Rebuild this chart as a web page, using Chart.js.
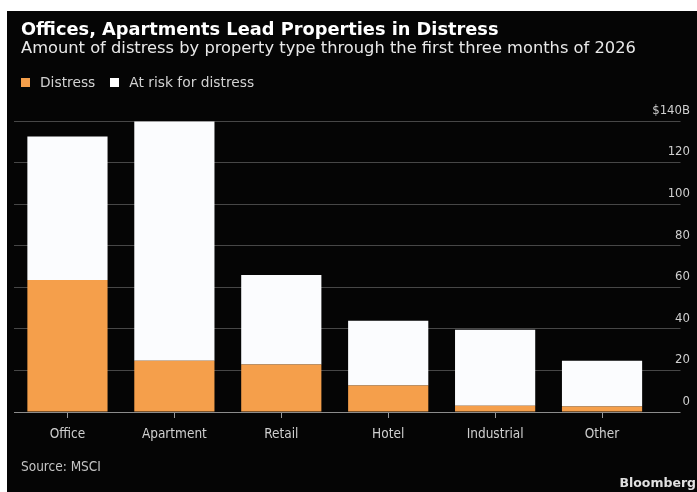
<!DOCTYPE html>
<html>
<head>
<meta charset="utf-8">
<script src="https://cdn.jsdelivr.net/npm/chart.js@4.4.1/dist/chart.umd.min.js"></script>
<style>
  html, body { margin: 0; padding: 0; background: #ffffff; }
  body { width: 697px; height: 492px; position: relative; overflow: hidden; }
  #panel { position: absolute; left: 7px; top: 11px; width: 690px; height: 481px; background: #050505; }
  #chart { position: absolute; left: 0; top: 0; }
  .txt { position: absolute; white-space: nowrap; }
  #title { left: 21px; top: 20px; font: bold 17.8px "DejaVu Sans", sans-serif; line-height: 17.8px; color: #ffffff; }
  #subtitle { left: 21px; top: 39.7px; font: 16.3px "DejaVu Sans", sans-serif; line-height: 16.3px; color: #e8e8e8; }
  #legend { left: 21px; top: 76.3px; font: 13.8px "DejaVu Sans", sans-serif; line-height: 13.8px; color: #d2d2d2; }
  #legend .sw { display: inline-block; width: 9px; height: 9px; vertical-align: 0; margin-right: 10px; }
  #legend .item { margin-right: 15px; }
  #source { left: 21px; top: 460px; font: 13.5px "DejaVu Sans Condensed", "DejaVu Sans", sans-serif; font-stretch: condensed; line-height: 13.5px; color: #c4c4c4; }
  #brand { right: 1px; top: 477px; font: bold 12.5px "DejaVu Sans", sans-serif; line-height: 12.5px; color: #e0e0e0; }
</style>
</head>
<body>
<div id="panel"></div>
<canvas id="chart" width="697" height="492"></canvas>
<div class="txt" id="title">Offices, Apartments Lead Properties in Distress</div>
<div class="txt" id="subtitle">Amount of distress by property type through the first three months of 2026</div>
<div class="txt" id="legend"></div>
<div class="txt" id="source">Source: MSCI</div>
<div class="txt" id="brand">Bloomberg</div>
<script>
// ---- data ----
const categories = ['Office', 'Apartment', 'Retail', 'Hotel', 'Industrial', 'Other'];
const distress = [63.5, 24.7, 22.9, 12.7, 3.0, 2.6];
const atRisk = [69, 115, 43, 31.2, 36.6, 22];
const seriesNames = ['Distress', 'At risk for distress'];
const yTickValues = [0, 20, 40, 60, 80, 100, 120, 140];
const yTickLabels = ['0', '20', '40', '60', '80', '100', '120', '$140B'];

const ORANGE = '#f59f4b';
const WHITE = '#fbfcfe';
const COND = '"DejaVu Sans Condensed", "DejaVu Sans", sans-serif';

// legend (HTML)
const legendEl = document.getElementById('legend');
[[seriesNames[0], ORANGE], [seriesNames[1], '#ffffff']].forEach(([name, col]) => {
  const s = document.createElement('span');
  s.className = 'item';
  s.innerHTML = '<span class="sw" style="background:' + col + '"></span>' + name;
  legendEl.appendChild(s);
});

new Chart(document.getElementById('chart'), {
  type: 'bar',
  data: {
    labels: categories,
    datasets: [
      { label: seriesNames[0], data: distress, backgroundColor: ORANGE, borderWidth: 0 },
      { label: seriesNames[1], data: atRisk, backgroundColor: WHITE, borderWidth: 0 }
    ]
  },
  options: {
    responsive: false,
    animation: false,
    devicePixelRatio: 1,
    layout: { padding: { left: 14, top: 121, right: 7, bottom: 50 } },
    plugins: { legend: { display: false }, title: { display: false }, tooltip: { enabled: false } },
    datasets: { bar: { categoryPercentage: 1, barPercentage: 0.75 } },
    scales: {
      x: {
        stacked: true,
        offset: true,
        border: { display: false },
        grid: { display: true, drawOnChartArea: false, drawTicks: true, tickLength: 6, offset: false, color: '#9a9a9a', lineWidth: 1 },
        ticks: { color: '#cfcfcf', font: { family: COND, size: 13.5 }, padding: 8, maxRotation: 0 },
        afterFit: (s) => { s.height = 30; }
      },
      y: {
        stacked: true,
        position: 'right',
        min: 0,
        max: 140,
        border: { display: false },
        afterBuildTicks: (s) => { s.ticks = yTickValues.map(v => ({ value: v })); },
        grid: {
          color: (c) => (c.tick && c.tick.value === 0) ? '#8c8c8c' : '#474747',
          lineWidth: 1,
          drawTicks: true,
          tickLength: 25
        },
        ticks: {
          mirror: true,
          padding: 34.5,
          labelOffset: -10.5,
          color: '#cfcfcf',
          font: { family: COND, size: 13 },
          callback: (v, i) => yTickLabels[yTickValues.indexOf(v)]
        },
        afterFit: (s) => { s.width = 34.5; }
      }
    }
  }
});
</script>
</body>
</html>
